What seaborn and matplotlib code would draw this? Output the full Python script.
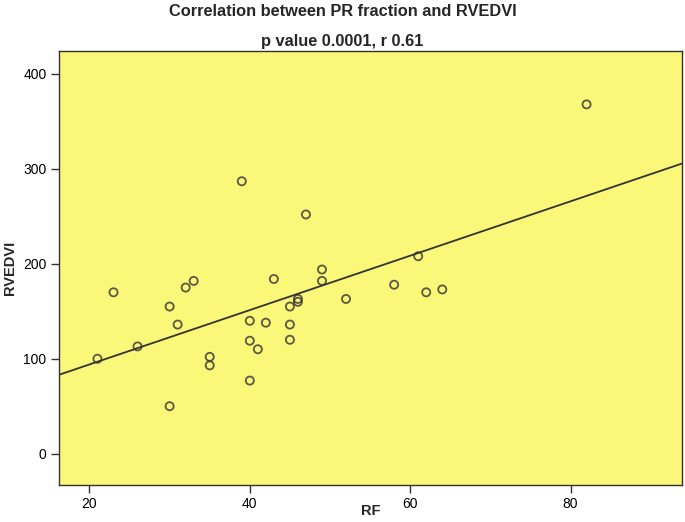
import numpy as np
import pandas as pd
import matplotlib
matplotlib.use('Agg')
import matplotlib.pyplot as plt
import seaborn as sns

# data
rf = [39, 47, 23, 33, 32, 43, 30, 31, 26, 21, 35, 35, 30, 40, 42, 40, 41, 40,
      45, 45, 45, 46, 46, 49, 49, 52, 58, 61, 62, 64, 82]
rvedvi = [287, 252, 170, 182, 175, 184, 155, 136, 113, 100, 102, 93, 50, 140, 138, 119, 110, 77,
          136, 120, 155, 163, 160, 194, 182, 163, 178, 208, 170, 173, 368]
x_ticks = [20, 40, 60, 80]
y_ticks = [0, 100, 200, 300, 400]
title_1 = 'Correlation between PR fraction and RVEDVI'
title_2 = 'p value 0.0001, r 0.61'

df = pd.DataFrame({'RF': rf, 'RVEDVI': rvedvi})

sns.set_style('ticks')
plt.rcParams['font.family'] = ['Liberation Sans', 'DejaVu Sans']

fig = plt.figure(figsize=(6.85, 5.22), dpi=100)
ax = fig.add_axes([0.0861, 0.0709, 0.9095, 0.831])
ax.set_facecolor('#FBF779')
ax.set_xlim(16.2, 93.9)
ax.set_ylim(-33, 424)

sns.regplot(data=df, x='RF', y='RVEDVI', ax=ax, ci=None, truncate=False,
            scatter_kws={'s': 34, 'facecolors': 'none', 'edgecolors': '#333333', 'linewidths': 1.3},
            line_kws={'color': '#333333', 'linewidth': 1.3})

ax.set_xlim(16.2, 93.9)
ax.set_ylim(-33, 424)
ax.set_xticks(x_ticks)
ax.set_yticks(y_ticks)
ax.tick_params(axis='both', direction='out', length=6, width=1, colors='#333333',
               labelcolor='black', labelsize=10, pad=3)
for sp in ax.spines.values():
    sp.set_visible(True)
    sp.set_color('#333333')
    sp.set_linewidth(1)

# axis labels sit close to the figure edges
ax.set_xlabel('RF', fontsize=10.5, fontweight='bold', va='center')
ax.set_ylabel('RVEDVI', fontsize=10.5, fontweight='bold', va='center')
ax.xaxis.set_label_coords(0.5, -0.061)
ax.yaxis.set_label_coords(-0.079, 0.5)

fig.text(0.5, 0.978, title_1, ha='center', va='center', fontsize=11.8, fontweight='bold')
fig.text(0.5, 0.921, title_2, ha='center', va='center', fontsize=11.8, fontweight='bold')

plt.savefig('out.png', dpi=100)
